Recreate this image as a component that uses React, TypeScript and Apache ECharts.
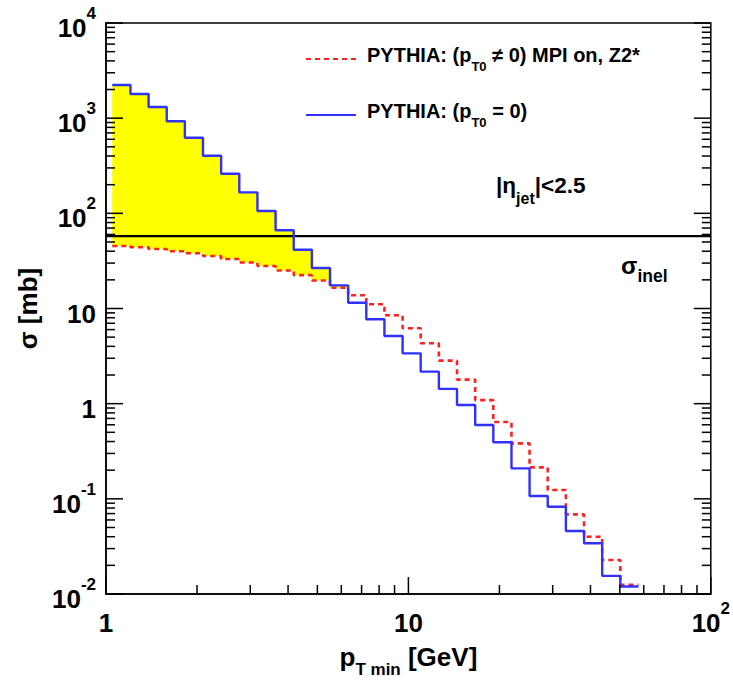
import React, { useEffect, useRef } from "react";
import * as echarts from "echarts";

// Bin edges of p_T,min (GeV)
const BIN_EDGES = [
  1.049, 1.205, 1.383, 1.588, 1.823, 2.093, 2.403, 2.759, 3.168, 3.637,
  4.176, 4.795, 5.505, 6.321, 7.257, 8.332, 9.568, 10.98, 12.61, 14.48,
  16.63, 19.09, 21.92, 25.16, 28.89, 33.17, 38.09, 43.73, 50.21, 57.65,
];
// PYTHIA (pT0 != 0) MPI on, Z2*  [mb]
const SIGMA_MPI = [
  45.4, 44.0, 42.2, 39.9, 38.0, 35.6, 33.1, 30.4, 28.0, 25.1,
  22.4, 19.7, 16.5, 13.8, 11.1, 8.48, 6.19, 4.31, 2.83, 1.79,
  1.09, 0.641, 0.383, 0.214, 0.124, 0.0687, 0.04, 0.0228, 0.0125,
];
// PYTHIA (pT0 = 0)  [mb]
const SIGMA_NOMPI = [
  2230, 1795, 1310, 927, 623, 403, 261, 166, 106, 66.3,
  41.5, 26.6, 17.5, 11.5, 7.7, 5.14, 3.38, 2.17, 1.43, 0.97,
  0.597, 0.393, 0.209, 0.107, 0.0826, 0.0459, 0.0341, 0.0155, 0.012,
];
const SIGMA_INEL = 57.5;

const X_RANGE = [1, 100];
const Y_RANGE = [0.01, 10000];
const X_MAJOR_TICKS = [1, 10, 100];
const X_MINOR_TICKS = [2, 3, 4, 5, 6, 7, 8, 9, 20, 30, 40, 50, 60, 70, 80, 90];
const Y_MAJOR_TICKS = [0.01, 0.1, 1, 10, 100, 1000, 10000];
const Y_MINOR_TICKS = [
  0.02, 0.03, 0.04, 0.05, 0.06, 0.07, 0.08, 0.09,
  0.2, 0.3, 0.4, 0.5, 0.6, 0.7, 0.8, 0.9,
  2, 3, 4, 5, 6, 7, 8, 9,
  20, 30, 40, 50, 60, 70, 80, 90,
  200, 300, 400, 500, 600, 700, 800, 900,
  2000, 3000, 4000, 5000, 6000, 7000, 8000, 9000,
];

const NAME_MPI = "PYTHIA: (pT0 ≠ 0) MPI on, Z2*";
const NAME_NOMPI = "PYTHIA: (pT0 = 0)";

const FONT = "'Liberation Sans', Arial, Helvetica, sans-serif";

function stepPoints(vals: number[]) {
  const pts: number[][] = [];
  vals.forEach((v, i) => {
    pts.push([BIN_EDGES[i], v]);
    pts.push([BIN_EDGES[i + 1], v]);
  });
  return pts;
}

function supLabel(v: number) {
  const e = Math.round(Math.log10(v));
  if (e === 0) return "{b|1}";
  if (e === 1) return "{b|10}";
  return `{b|10}{s|${e}}`;
}

const labelRich = {
  b: { fontSize: 26, fontWeight: "bold", fontFamily: FONT, color: "#000", lineHeight: 36, verticalAlign: "bottom" },
  s: { fontSize: 17, fontWeight: "bold", fontFamily: FONT, color: "#000", lineHeight: 36, verticalAlign: "top" },
};

export default function App() {
  const ref = useRef<HTMLDivElement>(null);
  useEffect(() => {
    if (!ref.current) return;
    const chart = echarts.init(ref.current, null, { renderer: "svg" });

    const tickData: number[][] = [];
    Y_MAJOR_TICKS.forEach((v) => { tickData.push([X_RANGE[0], v, 0, 1]); tickData.push([X_RANGE[1], v, 1, 1]); });
    Y_MINOR_TICKS.forEach((v) => { tickData.push([X_RANGE[0], v, 0, 0]); tickData.push([X_RANGE[1], v, 1, 0]); });
    X_MAJOR_TICKS.forEach((v) => tickData.push([v, Y_RANGE[0], 2, 1]));
    X_MINOR_TICKS.forEach((v) => tickData.push([v, Y_RANGE[0], 2, 0]));

    let nFill = 0;
    while (nFill < SIGMA_NOMPI.length && SIGMA_NOMPI[nFill] > SIGMA_MPI[nFill]) nFill++;

    const option: any = {
      animation: false,
      backgroundColor: "#fff",
      grid: { left: 106, right: 20, top: 23, bottom: 89, show: true, borderColor: "#000", borderWidth: 1.5, backgroundColor: "transparent" },
      legend: {
        orient: "vertical",
        left: 300,
        top: 40,
        itemWidth: 50,
        itemHeight: 14,
        itemGap: 28,
        data: [NAME_MPI, NAME_NOMPI],
        selectedMode: false,
        itemStyle: { opacity: 0 },
        formatter: (name: string) =>
          name === NAME_MPI
            ? "{b|PYTHIA: (p}{sub|T0}{b| ≠ 0) MPI on, Z2*}"
            : "{b|PYTHIA: (p}{sub|T0}{b| = 0)}",
        textStyle: {
          padding: [0, 0, 0, 6],
          rich: {
            b: { fontSize: 20, fontWeight: "bold", fontFamily: FONT, color: "#000", lineHeight: 28, verticalAlign: "top" },
            sub: { fontSize: 13, fontWeight: "bold", fontFamily: FONT, color: "#000", lineHeight: 28, verticalAlign: "bottom" },
          },
        },
      },
      xAxis: {
        type: "log",
        logBase: 10,
        min: X_RANGE[0],
        max: X_RANGE[1],
        axisLine: { show: true, lineStyle: { color: "#000", width: 1.5 } },
        axisTick: { show: false },
        splitLine: { show: false },
        axisLabel: { formatter: (v: number) => supLabel(v), margin: 6, rich: labelRich },
        name: "{b|p}{sub|T min}{b| [GeV]}",
        nameLocation: "middle",
        nameGap: 50,
        nameTextStyle: {
          rich: {
            b: { fontSize: 26, fontWeight: "bold", fontFamily: FONT, color: "#000", lineHeight: 34, verticalAlign: "top" },
            sub: { fontSize: 17, fontWeight: "bold", fontFamily: FONT, color: "#000", lineHeight: 34, verticalAlign: "bottom" },
          },
        },
      },
      yAxis: {
        type: "log",
        logBase: 10,
        min: Y_RANGE[0],
        max: Y_RANGE[1],
        axisLine: { show: true, lineStyle: { color: "#000", width: 1.5 } },
        axisTick: { show: false },
        splitLine: { show: false },
        axisLabel: { formatter: (v: number) => supLabel(v), margin: 10, rich: labelRich },
        name: "σ [mb]",
        nameLocation: "middle",
        nameRotate: 90,
        nameGap: 53,
        nameTextStyle: { fontSize: 26, fontWeight: "bold", fontFamily: FONT, color: "#000" },
      },
      graphic: [
        {
          type: "text",
          left: 496,
          top: 174,
          style: {
            text: "{b||η}{sub|jet}{b||<2.5}",
            rich: {
              b: { fontSize: 22.5, fontWeight: "bold", fontFamily: FONT, fill: "#000", lineHeight: 32, verticalAlign: "top" },
              sub: { fontSize: 16, fontWeight: "bold", fontFamily: FONT, fill: "#000", lineHeight: 32, verticalAlign: "bottom" },
            },
          },
        },
        {
          type: "text",
          left: 621,
          top: 253,
          style: {
            text: "{b|σ}{sub|inel}",
            rich: {
              b: { fontSize: 24, fontWeight: "bold", fontFamily: FONT, fill: "#000", lineHeight: 32, verticalAlign: "top" },
              sub: { fontSize: 17.5, fontWeight: "bold", fontFamily: FONT, fill: "#000", lineHeight: 32, verticalAlign: "bottom" },
            },
          },
        },
      ],
      series: [
        {
          type: "custom",
          name: "fill",
          z: 1,
          clip: false,
          silent: true,
          data: [[BIN_EDGES[0], SIGMA_MPI[0]]],
          renderItem: (_params: any, api: any) => {
            const top: number[][] = [];
            const bottom: number[][] = [];
            for (let i = 0; i < nFill; i++) {
              top.push(api.coord([BIN_EDGES[i], SIGMA_NOMPI[i]]));
              top.push(api.coord([BIN_EDGES[i + 1], SIGMA_NOMPI[i]]));
            }
            for (let i = nFill - 1; i >= 0; i--) {
              bottom.push(api.coord([BIN_EDGES[i + 1], SIGMA_MPI[i]]));
              bottom.push(api.coord([BIN_EDGES[i], SIGMA_MPI[i]]));
            }
            return { type: "polygon", shape: { points: top.concat(bottom) }, style: { fill: "#ffff00", stroke: "none" } };
          },
        },
        {
          type: "line",
          name: "sigma_inel",
          z: 3,
          symbol: "none",
          silent: true,
          lineStyle: { color: "#000", width: 2.2 },
          data: [[X_RANGE[0], SIGMA_INEL], [X_RANGE[1], SIGMA_INEL]],
        },
        {
          type: "line",
          name: NAME_MPI,
          z: 4,
          symbol: "none",
          silent: true,
          color: "#ff2020",
          lineStyle: { color: "#ff2020", width: 2.6, type: [5, 4] },
          data: stepPoints(SIGMA_MPI),
        },
        {
          type: "line",
          name: NAME_NOMPI,
          z: 5,
          symbol: "none",
          silent: true,
          color: "#3030ff",
          lineStyle: { color: "#3030ff", width: 2.4 },
          data: stepPoints(SIGMA_NOMPI),
        },
        {
          type: "custom",
          name: "ticks",
          z: 6,
          clip: false,
          silent: true,
          data: tickData,
          renderItem: (_params: any, api: any) => {
            const p = api.coord([api.value(0), api.value(1)]);
            const side = api.value(2);
            const len = api.value(3) ? 17 : 9;
            let x2 = p[0];
            let y2 = p[1];
            if (side === 0) x2 += len;
            else if (side === 1) x2 -= len;
            else y2 -= len;
            return { type: "line", shape: { x1: p[0], y1: p[1], x2, y2 }, style: { stroke: "#000", lineWidth: 1.5 } };
          },
        },
      ],
    };
    chart.setOption(option);
    return () => chart.dispose();
  }, []);
  return <div ref={ref} style={{ position: "fixed", left: 0, top: 0, width: 733, height: 683, background: "#fff" }} />;
}
